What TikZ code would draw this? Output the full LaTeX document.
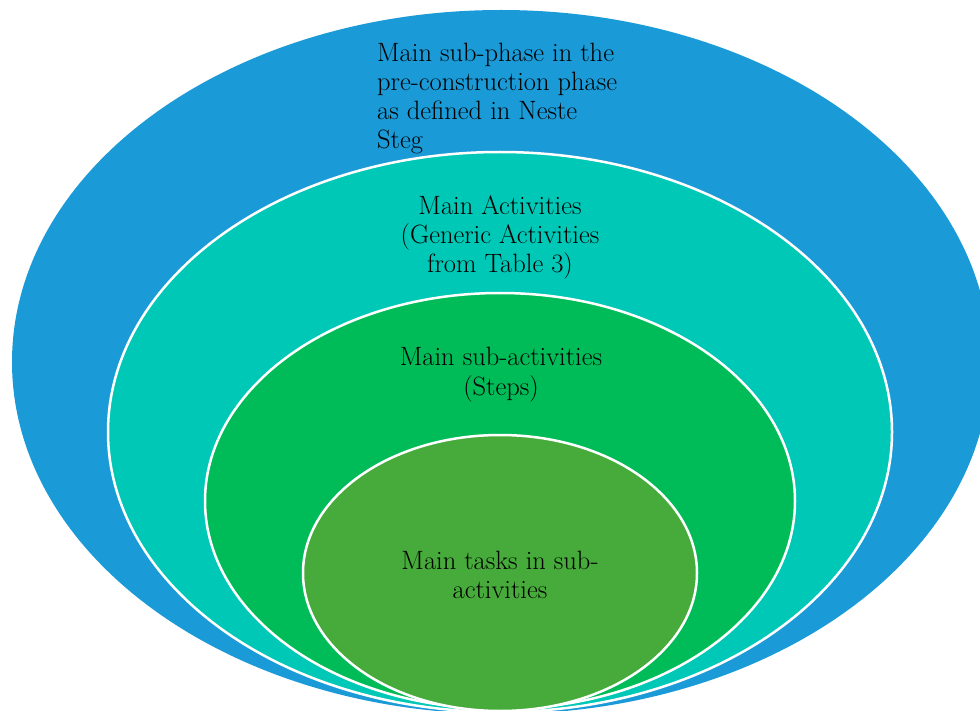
\documentclass[tikz,border=0pt]{standalone}
\usetikzlibrary{shapes.geometric}

\definecolor{ringblue}{HTML}{1A9AD6}
\definecolor{ringteal}{HTML}{00C8B6}
\definecolor{ringgreen}{HTML}{00BC58}
\definecolor{ringolive}{HTML}{46AB3A}

\tikzset{
  ring/.style={line width=2.5pt, draw=white},
  label/.style={inner sep=0pt, font=\fontsize{26.5}{29}\selectfont, text=black}
}

\begin{document}
\begin{tikzpicture}[x=1pt,y=-1pt]
  \useasboundingbox (0,0) rectangle (980,711);
  \clip (0,0) rectangle (980,711);

  % nested rings, outermost first
  \fill[ringblue] (501,362) ellipse [x radius=489, y radius=352];
  \filldraw[ring, fill=ringteal] (500,432) ellipse [x radius=392, y radius=280];
  \filldraw[ring, fill=ringgreen] (500,501) ellipse [x radius=295, y radius=208];
  \filldraw[ring, fill=ringolive] (500,573) ellipse [x radius=197, y radius=138];

  % labels (anchored at the baseline of their last line)
  \node[label, anchor=base west, align=left] (phase) at (377,149)
    {Main sub-phase in the\\pre-construction phase\\as defined in Neste\\Steg};
  \node[label, anchor=base, align=center] (activities) at (500,273)
    {Main Activities\\(Generic Activities\\from Table 3)};
  \node[label, anchor=base, align=center] (subact) at (501,395)
    {Main sub-activities\\(Steps)};
  \node[label, anchor=base, align=center] (tasks) at (500,598)
    {Main tasks in sub-\\activities};
\end{tikzpicture}
\end{document}
